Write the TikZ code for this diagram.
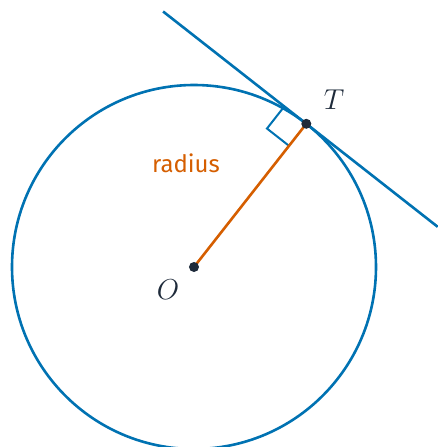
\documentclass[tikz,border=0pt]{standalone}
\usepackage{fontspec}
\newfontfamily\labelfont{Fira Sans}
\usetikzlibrary{calc, positioning}

\definecolor{circleblue}{HTML}{0072B2}
\definecolor{radiusorange}{HTML}{D55E00}
\definecolor{dotnavy}{HTML}{1E2A3A}

\begin{document}
\begin{tikzpicture}[
    x=0.5pt, y=0.5pt,
    curve/.style={
        draw=circleblue,
        line width=1.3pt
    },
    radiusline/.style={
        draw=radiusorange,
        line width=1.3pt
    },
    marker/.style={
        draw=circleblue,
        line width=1pt
    },
    dot/.style={
        circle,
        fill=dotnavy,
        inner sep=0pt,
        minimum size=5pt
    },
    ptlabel/.style={
        font=\fontsize{14.5}{16}\selectfont,
        text=dotnavy
    },
    word/.style={
        font=\labelfont\fontsize{12}{14}\selectfont,
        text=radiusorange
    }
]
\useasboundingbox (0,0) rectangle (438,447);

% Centre and point of tangency
\coordinate (O) at (194,180);
\coordinate (T) at ($(O)+(51.9:182)$);

% Circle
\draw[curve] (O) circle (182);

% Tangent line
\coordinate (tanA) at ($(T)+(141.9:182)$);
\coordinate (tanB) at ($(T)+(-38.1:167)$);
\draw[curve] (tanA) -- (tanB);

% Right angle marker
\draw[marker] ($(T)+(141.9:28)$) -- ++(231.9:28) -- ($(T)+(231.9:28)$);

% Radius
\draw[radiusline] (O) -- (T);
\node[word] (rlabel) at (186,284) {radius};

% Points
\node[dot] (Odot) at (O) {};
\node[dot] (Tdot) at (T) {};
\node[ptlabel] (Olabel) at (168,157) {$O$};
\node[ptlabel] (Tlabel) at (334,347) {$T$};

\end{tikzpicture}
\end{document}
